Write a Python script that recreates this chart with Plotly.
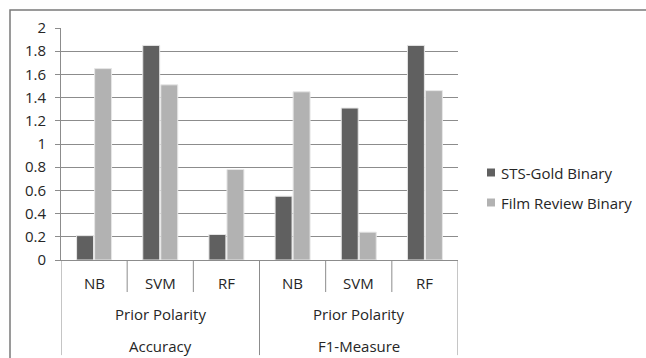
import plotly.graph_objects as go

# Data
methods = ["NB", "SVM", "RF", "NB", "SVM", "RF"]
feature_groups = ["Prior Polarity", "Prior Polarity"]
measures = ["Accuracy", "F1-Measure"]
sts_gold = [0.21, 1.85, 0.22, 0.55, 1.31, 1.85]
film_review = [1.65, 1.51, 0.78, 1.45, 0.24, 1.46]
y_ticks = [0, 0.2, 0.4, 0.6, 0.8, 1, 1.2, 1.4, 1.6, 1.8, 2]
series_names = ["STS-Gold Binary", "Film Review Binary"]
series_colors = ["#606060", "#b2b2b2"]

FONT = "Open Sans"
FS = 15
TXT = "#262626"
GRID = "#8c8c8c"
W, H = 646, 358
ML, MR, MT, MB = 61, 188, 28, 98
PW, PH = W - ML - MR, H - MT - MB
x = list(range(len(methods)))
per_group = len(methods) // len(measures)


def px_x(p):
    return (p - ML) / PW


def px_y(p):
    return (H - MB - p) / PH


fig = go.Figure()
for vals, name, color in zip([sts_gold, film_review], series_names, series_colors):
    fig.add_trace(go.Bar(x=x, y=vals, name=name, showlegend=False,
                         marker=dict(color=color, line=dict(color="#e6e6e6", width=1))))

shapes = []
annotations = []

# Category separators: short ones between methods, long ones between groups
for i in range(len(methods) + 1):
    xb = i - 0.5
    long_line = (i % per_group == 0)
    shapes.append(dict(type="line", xref="x", yref="paper", x0=xb, x1=xb,
                       y0=0, y1=-0.41 if long_line else -0.138,
                       line=dict(color=GRID, width=1)))

# Method labels
for i, m in enumerate(methods):
    annotations.append(dict(x=i, y=-0.099, xref="x", yref="paper", text=m,
                            yanchor="middle", showarrow=False,
                            font=dict(size=FS, color=TXT)))

# Feature and measure labels, centred under each group
for g in range(len(measures)):
    center = g * per_group + (per_group - 1) / 2
    annotations.append(dict(x=center, y=-0.233, xref="x", yref="paper",
                            text=feature_groups[g], yanchor="middle",
                            showarrow=False, font=dict(size=FS, color=TXT)))
    annotations.append(dict(x=center, y=-0.371, xref="x", yref="paper",
                            text=measures[g], yanchor="middle",
                            showarrow=False, font=dict(size=FS, color=TXT)))

# Legend: small square swatches with labels
for k, (name, color) in enumerate(zip(series_names, series_colors)):
    cy = 172.5 + 30 * k
    shapes.append(dict(type="rect", xref="paper", yref="paper",
                       x0=px_x(487), x1=px_x(495),
                       y0=px_y(cy + 4), y1=px_y(cy - 4),
                       line=dict(width=0), fillcolor=color))
    annotations.append(dict(x=px_x(499), y=px_y(cy), xref="paper", yref="paper",
                            text=name, xanchor="left", yanchor="middle",
                            showarrow=False, font=dict(size=FS, color=TXT)))

# Outer chart frame
shapes.append(dict(type="rect", xref="paper", yref="paper",
                   x0=px_x(10), x1=2.0, y0=-1.0, y1=px_y(10),
                   line=dict(color="#7a7a7a", width=1.5), layer="below"))

fig.update_layout(
    width=W, height=H,
    margin=dict(l=ML, r=MR, t=MT, b=MB),
    paper_bgcolor="white", plot_bgcolor="white",
    barmode="group", bargap=0.455, bargroupgap=0.06,
    font=dict(family=FONT, size=FS, color=TXT),
    showlegend=False,
    xaxis=dict(range=[-0.5, len(methods) - 0.5], showticklabels=False,
               showgrid=False, zeroline=False, showline=True,
               linecolor=GRID, linewidth=1, ticks=""),
    yaxis=dict(range=[0, 2], tickvals=y_ticks,
               ticktext=[f"{v:g}" for v in y_ticks],
               showgrid=True, gridcolor=GRID, gridwidth=1,
               zeroline=False, showline=True, linecolor=GRID, linewidth=1,
               ticks="outside", ticklen=5, tickcolor=GRID,
               ticklabelstandoff=6,
               tickfont=dict(size=FS, color=TXT)),
    shapes=shapes,
    annotations=annotations,
)

fig.write_html("out.html")
